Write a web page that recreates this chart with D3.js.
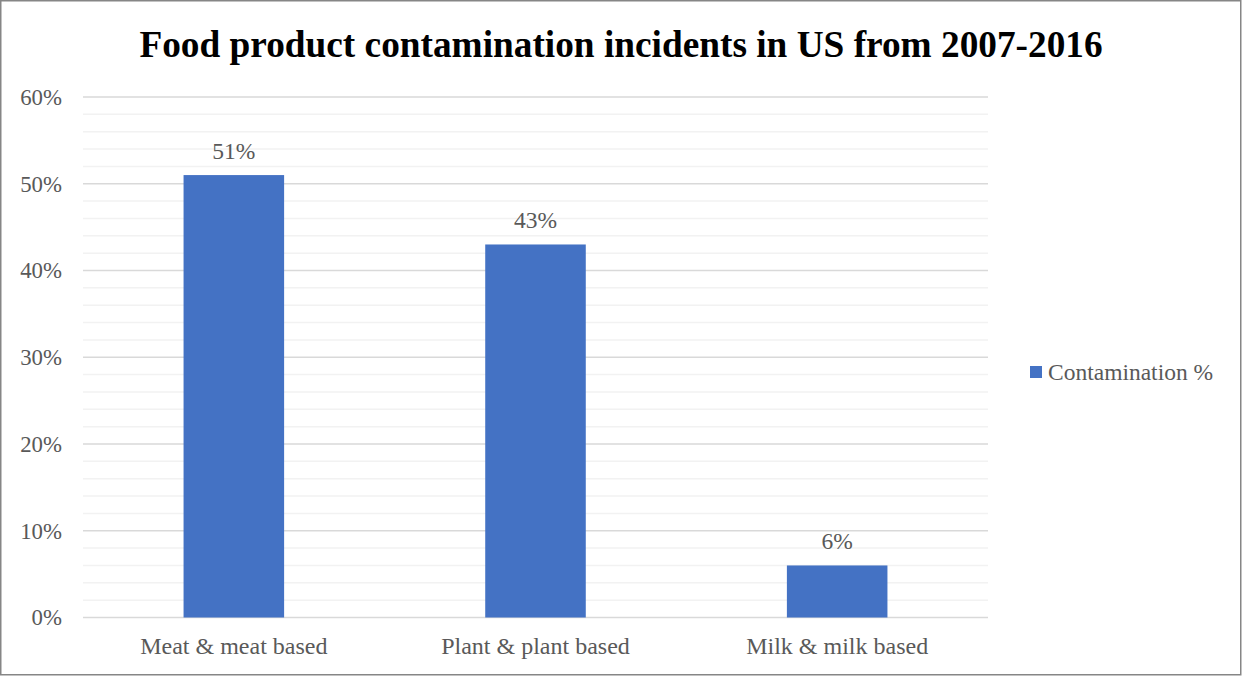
<!DOCTYPE html>
<html>
<head>
<meta charset="utf-8">
<script src="https://cdn.jsdelivr.net/npm/d3@7"></script>
<style>
  html, body { margin: 0; padding: 0; background: #fff; }
  svg { display: block; }
  text { font-family: "Liberation Serif", "Times New Roman", serif; }
</style>
</head>
<body>
<svg id="chart" width="1242" height="676"></svg>
<script>
// Chart data
const categories = ["Meat & meat based", "Plant & plant based", "Milk & milk based"];
const contamination = [51, 43, 6];
const seriesName = "Contamination %";
const majorTicks = [0, 10, 20, 30, 40, 50, 60];
const minorTicks = [2, 4, 6, 8, 12, 14, 16, 18, 22, 24, 26, 28, 32, 34, 36, 38, 42, 44, 46, 48, 52, 54, 56, 58];
const titleText = "Food product contamination incidents in US from 2007-2016";

const W = 1242, H = 676;
const plot = { left: 83, right: 988, top: 97, bottom: 617.5 };
const barColor = "#4472C4";
const textColor = "#595959";
const serif = "'Liberation Serif', 'Times New Roman', serif";

const svg = d3.select("#chart");

// Outer frame
svg.append("rect")
  .attr("x", 0.75).attr("y", 0.75)
  .attr("width", W - 2).attr("height", H - 2)
  .attr("fill", "#fff").attr("stroke", "#868686").attr("stroke-width", 1.5);

const x = d3.scaleBand()
  .domain(categories)
  .range([plot.left, plot.right])
  .paddingInner(2 / 3)
  .paddingOuter(1 / 3);

const y = d3.scaleLinear()
  .domain([0, 60])
  .range([plot.bottom, plot.top]);

// Minor gridlines
svg.append("g")
  .selectAll("line")
  .data(minorTicks)
  .join("line")
  .attr("x1", plot.left).attr("x2", plot.right)
  .attr("y1", d => y(d)).attr("y2", d => y(d))
  .attr("stroke", "#f2f2f2").attr("stroke-width", 1.5);

// Major gridlines
svg.append("g")
  .selectAll("line")
  .data(majorTicks)
  .join("line")
  .attr("x1", plot.left).attr("x2", plot.right)
  .attr("y1", d => y(d)).attr("y2", d => y(d))
  .attr("stroke", "#d9d9d9").attr("stroke-width", 1.5);

// Y axis labels
const yAxis = d3.axisLeft(y)
  .tickValues(majorTicks)
  .tickFormat(d => d + "%")
  .tickSize(0)
  .tickPadding(0);
const yg = svg.append("g")
  .attr("transform", `translate(${plot.left - 21},0)`)
  .call(yAxis)
  .attr("font-family", serif)
  .attr("font-size", 22.8);
yg.select(".domain").remove();
yg.selectAll("text").attr("fill", textColor).style("font-family", serif);

// Bars
svg.append("g")
  .selectAll("rect")
  .data(categories)
  .join("rect")
  .attr("x", d => x(d))
  .attr("width", x.bandwidth())
  .attr("y", (d, i) => y(contamination[i]))
  .attr("height", (d, i) => y(0) - y(contamination[i]))
  .attr("fill", barColor);

// Data labels
svg.append("g")
  .selectAll("text")
  .data(categories)
  .join("text")
  .attr("x", d => x(d) + x.bandwidth() / 2)
  .attr("y", (d, i) => y(contamination[i]) - 16.5)
  .attr("text-anchor", "middle")
  .attr("fill", textColor)
  .style("font-family", serif)
  .style("font-size", "23.5px")
  .text((d, i) => contamination[i] + "%");

// X axis category labels
const xAxis = d3.axisBottom(x).tickSize(0).tickPadding(0);
const xg = svg.append("g")
  .attr("transform", `translate(0,${plot.bottom + 19.5})`)
  .call(xAxis)
  .attr("font-family", serif)
  .attr("font-size", 24);
xg.select(".domain").remove();
xg.selectAll("text").attr("fill", textColor).style("font-family", serif);

// Title
svg.append("text")
  .attr("x", 621)
  .attr("y", 57)
  .attr("text-anchor", "middle")
  .attr("fill", "#000")
  .style("font-family", serif)
  .style("font-size", "37.3px")
  .style("font-weight", "bold")
  .text(titleText);

// Legend
const legend = svg.append("g").attr("transform", "translate(1030,366)");
legend.append("rect")
  .attr("width", 12).attr("height", 12)
  .attr("fill", barColor);
legend.append("text")
  .attr("x", 18).attr("y", 14)
  .attr("fill", textColor)
  .style("font-family", serif)
  .style("font-size", "23.5px")
  .text(seriesName);
</script>
</body>
</html>
